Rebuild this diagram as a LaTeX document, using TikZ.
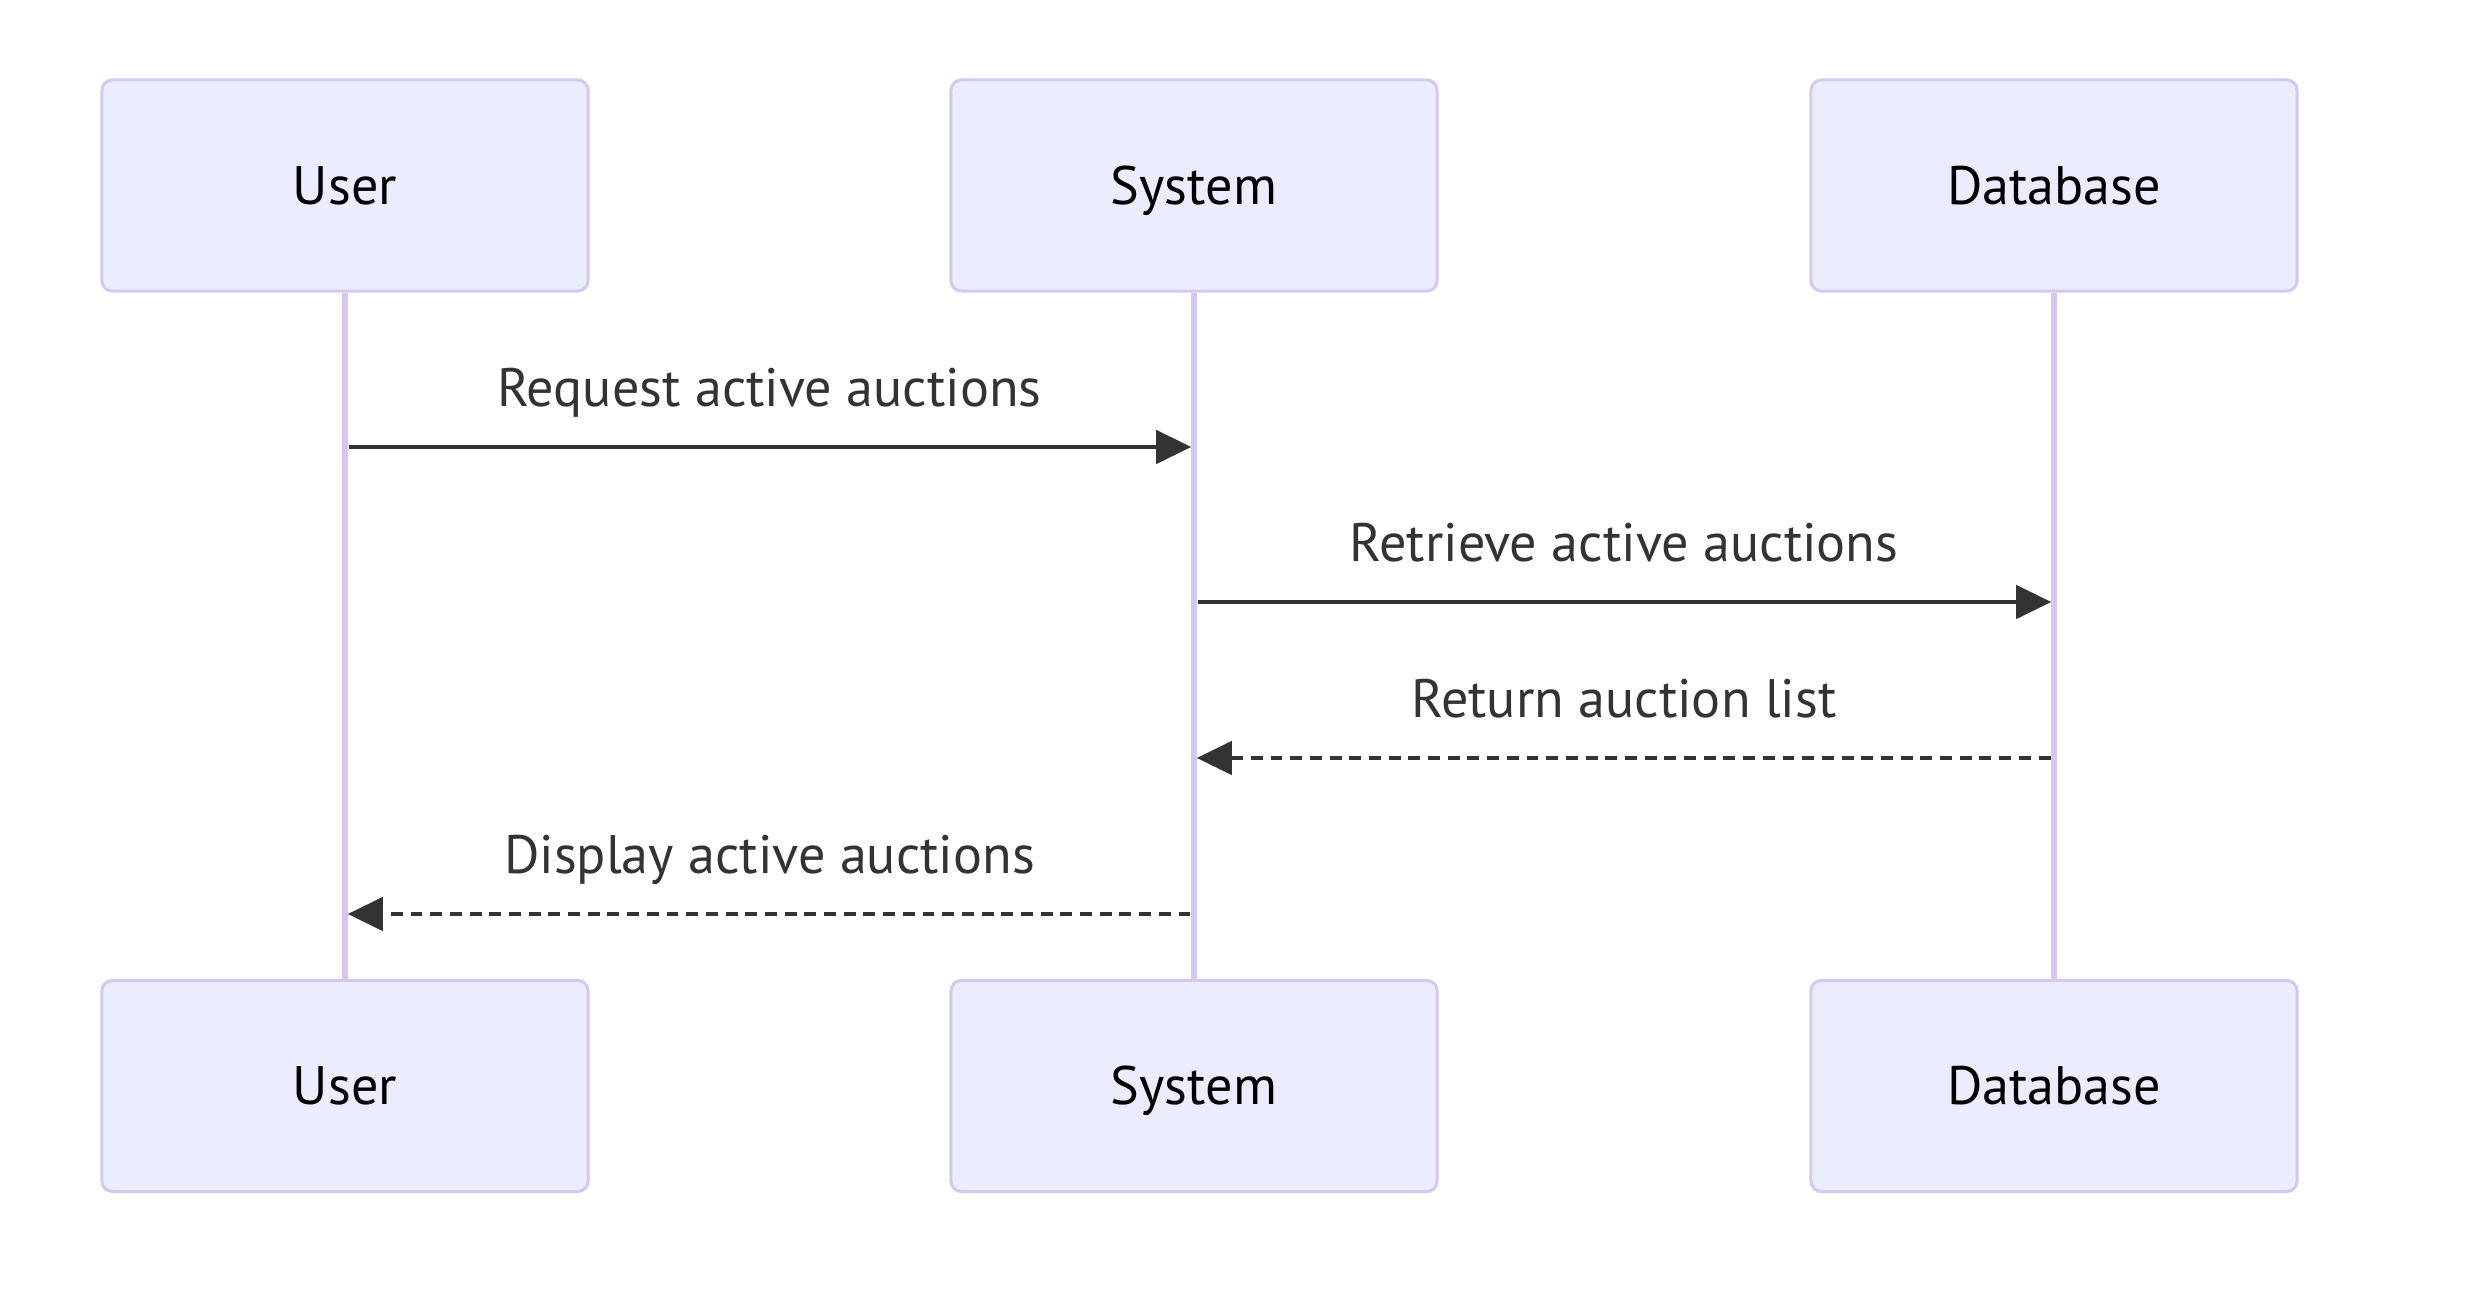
\documentclass[tikz,border=0pt]{standalone}
\usepackage{fontspec}
\setmainfont{PT Sans}
\usepackage{xcolor}
\usetikzlibrary{arrows.meta,positioning}
\definecolor{actorfill}{HTML}{ECECFF}
\definecolor{actorline}{HTML}{D2C8F0}
\definecolor{msgline}{HTML}{333333}

\begin{document}
\begin{tikzpicture}[x=0.01cm,y=-0.01cm,font=\fontsize{15.4}{18}\selectfont,
      >={Triangle[length=10pt,width=9.5pt]},
      actor/.style={draw=actorline,fill=actorfill,line width=0.85pt,rounded corners=3pt,
        minimum width=4.86cm,minimum height=2.11cm,text height=10.8pt,text depth=0pt,text=black},
      life/.style={draw=actorline,line width=1.7pt},
      msg/.style={->,draw=msgline,line width=1.1pt,shorten <=1pt,shorten >=0.8pt},
      reply/.style={msg,dash pattern=on 3.4pt off 2.2pt},
      lbl/.style={midway,anchor=base,yshift=0.4cm,text=msgline}]
    \useasboundingbox (0,0) rectangle (2466,1292);
    % actors, top row
    \node[actor] (User) at (345,185.5) {User};
    \node[actor] (System) at (1194,185.5) {System};
    \node[actor] (Db) at (2054,185.5) {Database};
    % actors, bottom row
    \node[actor,below=6.86cm of User] (User2) {User};
    \node[actor,below=6.86cm of System] (System2) {System};
    \node[actor,below=6.86cm of Db] (Db2) {Database};
    % lifelines
    \draw[life] (User) -- (User2);
    \draw[life] (System) -- (System2);
    \draw[life] (Db) -- (Db2);
    % message rows
    \coordinate (r1) at (0,447);
    \coordinate (r2) at (0,602);
    \coordinate (r3) at (0,758);
    \coordinate (r4) at (0,914);
    \draw[msg] (User |- r1) -- (System |- r1) node[lbl]{Request active auctions};
    \draw[msg] (System |- r2) -- (Db |- r2) node[lbl]{Retrieve active auctions};
    \draw[reply] (Db |- r3) -- (System |- r3) node[lbl]{Return auction list};
    \draw[reply] (System |- r4) -- (User |- r4) node[lbl]{Display active auctions};
\end{tikzpicture}
\end{document}
